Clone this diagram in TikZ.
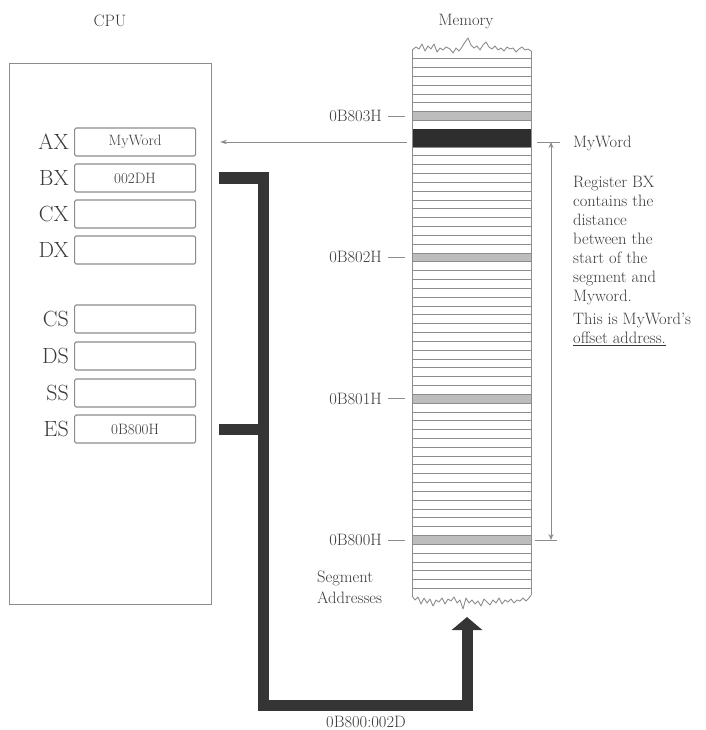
\documentclass[tikz,border=0pt]{standalone}
\usetikzlibrary{arrows.meta}
\definecolor{ink}{HTML}{3A3A3A}
\definecolor{linegray}{HTML}{8C8C8C}
\definecolor{bandgray}{HTML}{BDBDBD}
\definecolor{barcol}{HTML}{353535}
\tikzset{
  txt/.style={text=ink, inner sep=0pt, font=\fontsize{16.5}{19}\selectfont},
  reglab/.style={text=ink, inner sep=0pt, anchor=east, font=\fontsize{22}{24}\selectfont},
  regbox/.style={draw=linegray, line width=1.1pt, rounded corners=1.5pt, minimum width=121pt,
    minimum height=28pt, inner sep=0pt, anchor=west, text=ink, font=\fontsize{15}{16}\selectfont},
  rowline/.style={draw=linegray, line width=0.9pt},
  thinline/.style={draw=linegray, line width=0.9pt},
  bus/.style={draw=barcol, line width=11pt, line join=miter},
}
\begin{document}
\begin{tikzpicture}[x=1pt,y=-1pt]
\useasboundingbox (0,0) rectangle (705,730);

% CPU
\node[txt] (cpulab) at (110,21) {CPU};
\node[draw=linegray, line width=1.3pt, minimum width=202pt, minimum height=541pt,
      anchor=north west, inner sep=0pt] (cpu) at (9,63) {};

\node[reglab] (axl) at (69,142) {AX};
\node[regbox] (ax) at (74,142) {MyWord};
\node[reglab] (bxl) at (69,178) {BX};
\node[regbox] (bx) at (74,178) {002DH};
\node[reglab] (cxl) at (69,214) {CX};
\node[regbox] (cx) at (74,214) {};
\node[reglab] (dxl) at (69,250) {DX};
\node[regbox] (dx) at (74,250) {};
\node[reglab] (csl) at (69,319) {CS};
\node[regbox] (cs) at (74,319) {};
\node[reglab] (dsl) at (69,356) {DS};
\node[regbox] (ds) at (74,356) {};
\node[reglab] (ssl) at (69,393) {SS};
\node[regbox] (ss) at (74,393) {};
\node[reglab] (esl) at (69,429) {ES};
\node[regbox] (es) at (74,429) {0B800H};

% Memory
\node[txt] (memlab) at (466,22) {Memory};
\node[minimum width=119pt, minimum height=530pt, anchor=north west, inner sep=0pt] (mem) at (412,58.8) {};
% bands
\foreach \k in {0,16,32,48}{
  \fill[bandgray] (412,{544.415-8.83*\k}) rectangle (531,{535.585-8.83*\k});
}
% row lines
\foreach \k in {-5,...,55}{
  \draw[rowline] (412,{544.415-8.83*\k}) -- (531,{544.415-8.83*\k});
}
\fill[black!82] (412,{544.415-8.83*45}) rectangle (531,{535.585-8.83*46});
% sides
\draw[thinline] (412,50) -- (412,596);
\draw[thinline] (531,51) -- (531,595);
% jagged top
\draw[thinline, line join=round] (412,50) -- (416,47) -- (419,49) -- (422,44) -- (425,51) -- (428,46) -- (431,49) -- (434,44) -- (437,52) -- (440,48) -- (443,50) -- (446,47) -- (450,49) -- (453,53) -- (456,48) -- (459,51) -- (462,47) -- (465,42) -- (468,38) -- (471,45) -- (474,48) -- (477,46) -- (480,50) -- (483,45) -- (486,42) -- (489,47) -- (492,49) -- (495,46) -- (498,50) -- (501,48) -- (504,51) -- (507,47) -- (510,49) -- (513,48) -- (516,52) -- (519,49) -- (522,47) -- (525,50) -- (528,49) -- (531,51);
% jagged bottom
\draw[thinline, line join=round] (412,596) -- (415,600) -- (418,597) -- (421,604) -- (424,598) -- (427,603) -- (430,599) -- (433,606) -- (436,600) -- (439,602) -- (442,598) -- (445,604) -- (448,599) -- (451,601) -- (454,597) -- (457,603) -- (460,600) -- (463,609) -- (466,598) -- (469,603) -- (472,600) -- (475,604) -- (478,601) -- (481,606) -- (484,599) -- (487,602) -- (490,605) -- (493,600) -- (496,603) -- (499,598) -- (502,604) -- (505,600) -- (508,602) -- (511,599) -- (514,603) -- (517,600) -- (520,601) -- (523,598) -- (526,601) -- (529,598) -- (531,595);

% segment address labels
\node[txt, anchor=east] (s3) at (382,116.2) {0B803H};
\node[txt, anchor=east] (s2) at (382,257.4) {0B802H};
\node[txt, anchor=east] (s1) at (382,398.7) {0B801H};
\node[txt, anchor=east] (s0) at (382,540) {0B800H};
\foreach \n in {s3,s2,s1,s0}{
  \draw[thinline] ([xshift=6pt]\n.east) -- ([xshift=23pt]\n.east);
}
\node[txt, anchor=north west, align=left] (seglab) at (317,571) {Segment\\[2pt]Addresses};

% AX arrow
\draw[thinline, -{Stealth[length=7pt,width=4.5pt]}] ([xshift=-5pt]mem.west |- ax.east) -- ([xshift=24pt]ax.east);

% offset span arrow
\coordinate (mwtop) at (551,142);
\coordinate (segbot) at (551,540);
\draw[thinline, {Stealth[length=6pt,width=5pt]}-{Stealth[length=6pt,width=5pt]}] (mwtop) -- (segbot);
\draw[thinline] ([xshift=-14pt]mwtop) -- ([xshift=9pt]mwtop);
\draw[thinline] ([xshift=-16pt]segbot) -- ([xshift=6pt]segbot);

% right text
\node[txt, anchor=west] (mwlab) at (573,143) {MyWord};
\node[txt, anchor=north west, align=left] (expl) at (573,176)
  {Register BX\\contains the\\distance\\between the\\start of the\\segment and\\Myword.\\[4pt]This is MyWord's\\\underline{offset address.}};

% thick bus
\coordinate (junc) at (263,178);
\coordinate (corner1) at (263,705);
\coordinate (corner2) at (467,705);
\coordinate (memin) at (467,617);
\draw[bus, -{Triangle[length=13pt,width=30pt]}] ([xshift=23pt]bx.east) -- (junc) -- (corner1) -- (corner2) -- (memin);
\draw[bus] ([xshift=23pt]es.east) -- (junc |- es.east);
\node[txt] (addr) at (366,722) {0B800:002D};
\end{tikzpicture}
\end{document}
